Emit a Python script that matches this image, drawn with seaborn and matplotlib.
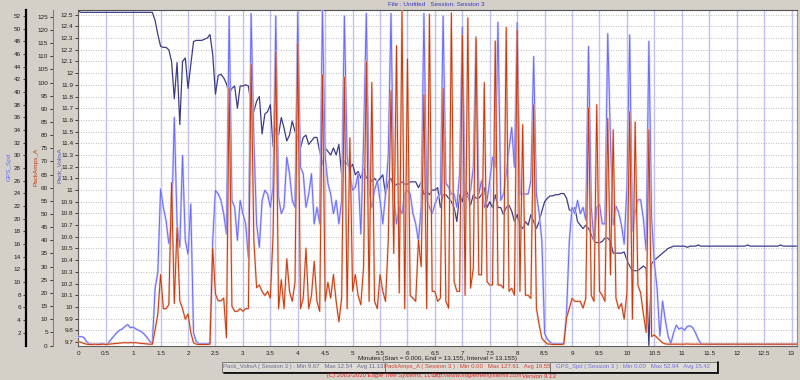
import numpy as np
import pandas as pd
import seaborn as sns
import matplotlib.pyplot as plt
from matplotlib.patches import Rectangle

# Eagle Tree logger, session 3 - one sample every 0.05 minutes
pack_volts = [
    12.53, 12.52, 12.52, 12.52, 12.52, 12.52, 12.52, 12.52, 12.52, 12.52,  # 0.0
    12.52, 12.52, 12.52, 12.52, 12.52, 12.52, 12.52, 12.52, 12.52, 12.52,
    12.52, 12.52, 12.52, 12.52, 12.52, 12.52, 12.52, 12.52, 12.45, 12.33,  # 1.0
    12.23, 12.22, 12.22, 12.20, 12.10, 11.78, 12.09, 11.56, 12.10, 12.13,
    11.87, 12.07, 12.27, 12.28, 12.28, 12.28, 12.29, 12.30, 12.33, 12.16,  # 2.0
    11.82, 11.98, 11.99, 11.96, 11.91, 11.82, 11.87, 11.89, 11.70, 11.89,
    11.89, 11.90, 11.89, 11.73, 11.67, 11.76, 11.80, 11.48, 11.65, 11.67,  # 3.0
    11.73, 11.37, 11.53, 11.47, 11.62, 11.53, 11.42, 11.47, 11.59, 11.50,
    11.45, 11.36, 11.45, 11.47, 11.39, 11.42, 11.45, 11.45, 11.33, 11.22,  # 4.0
    11.36, 11.33, 11.30, 11.36, 11.30, 11.39, 11.13, 11.25, 11.22, 11.19,
    11.22, 11.13, 11.16, 11.10, 11.19, 11.10, 11.13, 11.07, 11.10, 11.07,  # 5.0
    11.10, 11.13, 10.96, 11.07, 11.10, 11.02, 11.05, 11.05, 11.07, 11.05,
    11.05, 11.07, 11.07, 11.07, 11.02, 11.07, 10.96, 10.99, 10.96, 11.00,  # 6.0
    11.00, 11.02, 10.85, 10.96, 10.96, 10.93, 10.90, 10.85, 10.73, 10.96,
    10.90, 11.02, 10.96, 10.87, 10.96, 10.93, 10.93, 10.96, 11.02, 10.85,  # 7.0
    10.90, 10.85, 10.96, 10.85, 10.85, 10.79, 10.85, 10.87, 10.82, 10.73,
    10.79, 10.70, 10.67, 10.73, 10.70, 10.79, 10.73, 10.67, 10.73, 10.82,  # 8.0
    10.90, 10.93, 10.95, 10.95, 10.96, 10.96, 10.97, 10.97, 10.93, 10.83,
    10.82, 10.85, 10.73, 10.70, 10.67, 10.70, 10.67, 10.62, 10.56, 10.55,  # 9.0
    10.55, 10.56, 10.59, 10.59, 10.56, 10.46, 10.46, 10.46, 10.46, 10.47,
    10.40, 10.35, 10.31, 10.31, 10.31, 10.33, 10.35, 10.33, 9.67, 10.37,  # 10.0
    10.40, 10.42, 10.44, 10.46, 10.48, 10.50, 10.51, 10.52, 10.52, 10.52,
    10.52, 10.52, 10.51, 10.52, 10.52, 10.52, 10.53, 10.52, 10.52, 10.52,  # 11.0
    10.52, 10.52, 10.52, 10.52, 10.52, 10.52, 10.52, 10.52, 10.52, 10.52,
    10.52, 10.52, 10.52, 10.52, 10.53, 10.52, 10.52, 10.52, 10.52, 10.52,  # 12.0
    10.52, 10.52, 10.52, 10.52, 10.52, 10.52, 10.53, 10.52, 10.52, 10.52,
    10.52, 10.52, 10.52, 10.52,                                            # 13.0
]

pack_amps = [
    1.5, 1.2, 0.8, 0.5, 0.4, 0.4, 0.5, 0.4, 0.4, 0.5,
    0.4, 0.5, 0.6, 0.7, 0.8, 0.9, 1.0, 1.1, 1.0, 1.1,
    1.0, 1.1, 0.9, 0.8, 0.7, 0.6, 0.5, 0.5, 6.0, 12.0,
    27.0, 14.0, 14.0, 15.5, 62.0, 16.0, 45.0, 17.0, 14.0, 10.0,
    12.0, 5.0, 1.0, 0.5, 0.4, 0.4, 0.4, 0.4, 0.5, 37.0,
    19.6, 17.0, 17.0, 18.0, 3.0, 98.0, 15.0, 13.0, 13.0, 14.0,
    13.0, 14.0, 14.0, 107.0, 40.0, 22.0, 23.0, 20.6, 19.0, 20.6,
    18.0, 42.0, 112.0, 14.0, 25.0, 14.0, 33.0, 20.6, 16.8, 24.0,
    115.0, 14.0, 18.0, 37.0, 14.0, 19.0, 32.0, 16.8, 13.0, 103.0,
    16.8, 24.0, 18.0, 27.0, 16.8, 9.0, 18.0, 102.0, 14.0, 79.0,
    20.6, 27.0, 19.0, 15.5, 30.0, 108.0, 16.8, 100.0, 16.8, 14.0,
    27.0, 20.6, 16.8, 40.0, 97.0, 35.0, 114.0, 20.0, 127.6, 14.0,
    109.0, 19.0, 18.0, 16.8, 40.0, 30.0, 95.4, 14.0, 126.0, 20.6,
    20.6, 16.8, 18.0, 97.9, 16.8, 14.2, 126.5, 24.3, 20.6, 20.6,
    118.0, 19.1, 124.6, 21.8, 29.4, 117.0, 26.9, 26.9, 100.0, 24.3,
    23.0, 23.0, 115.8, 23.0, 23.0, 21.8, 121.0, 20.6, 21.8, 19.1,
    120.0, 20.6, 84.0, 19.1, 19.1, 17.9, 91.6, 14.2, 7.9, 2.7,
    1.5, 0.6, 0.5, 0.4, 0.4, 0.4, 0.4, 0.5, 10.5, 14.2,
    17.9, 16.8, 16.8, 16.8, 14.2, 17.9, 90.4, 19.1, 16.8, 91.6,
    20.6, 19.1, 16.8, 86.4, 26.9, 82.0, 18.0, 14.0, 16.0, 10.0,
    20.0, 89.0, 10.0, 85.0, 23.0, 20.0, 12.0, 5.0, 82.0, 3.4,
    4.0, 3.0, 2.0, 1.0, 0.6, 0.5, 0.5, 0.5, 0.5, 0.5,
    0.5, 0.5, 0.6, 0.5, 0.5, 0.5, 0.5, 0.5, 0.5, 0.5,
    0.5, 0.5, 0.5, 0.5, 0.5, 0.5, 0.5, 0.5, 0.5, 0.5,
    0.5, 0.5, 0.5, 0.5, 0.5, 0.5, 0.5, 0.5, 0.5, 0.5,
    0.5, 0.5, 0.5, 0.5, 0.5, 0.5, 0.5, 0.5, 0.5, 0.5,
    0.5, 0.5, 0.5, 0.5,
]

gps_speed = [
    1.4, 1.4, 1.3, 0.6, 0.3, 0.2, 0.2, 0.2, 0.3, 0.3,
    0.2, 0.4, 1.0, 1.5, 2.0, 2.4, 2.6, 3.0, 3.3, 2.8,
    2.9, 2.6, 2.4, 2.2, 1.8, 1.3, 0.7, 0.3, 9.0, 11.6,
    24.7, 21.8, 19.7, 16.1, 19.0, 36.0, 19.2, 15.5, 30.0, 16.6,
    14.4, 22.3, 2.0, 0.6, 0.3, 0.3, 0.3, 0.3, 0.4, 16.6,
    24.5, 23.9, 22.9, 20.8, 17.6, 52.0, 22.9, 21.8, 16.6, 22.9,
    20.8, 19.2, 13.9, 52.4, 32.4, 19.2, 15.5, 22.9, 24.5, 23.9,
    21.8, 25.0, 52.0, 23.4, 20.8, 21.8, 29.7, 27.1, 22.9, 21.8,
    52.6, 28.1, 27.1, 21.8, 23.9, 27.1, 19.2, 21.8, 19.2, 52.9,
    29.7, 25.6, 23.9, 20.8, 22.9, 19.2, 22.9, 52.0, 29.7, 27.1,
    24.5, 25.0, 27.1, 17.6, 32.4, 52.4, 24.5, 21.8, 24.5, 26.0,
    22.9, 19.2, 23.9, 30.0, 52.4, 23.9, 19.2, 21.8, 20.8, 23.9,
    24.5, 23.9, 20.8, 19.2, 16.5, 21.8, 52.4, 22.9, 21.8, 20.8,
    22.3, 23.4, 23.9, 52.0, 25.6, 25.0, 23.9, 23.9, 21.8, 27.1,
    50.3, 23.9, 23.4, 24.5, 28.1, 48.7, 23.9, 26.0, 21.8, 22.9,
    26.0, 29.7, 28.1, 51.0, 22.9, 23.9, 27.1, 31.0, 34.4, 28.1,
    51.0, 23.9, 23.9, 23.9, 23.9, 26.0, 45.6, 23.9, 20.8, 16.5,
    1.9, 1.0, 0.5, 0.3, 0.3, 0.3, 0.3, 0.4, 5.3, 16.5,
    21.8, 20.8, 22.9, 20.8, 21.8, 19.8, 47.2, 21.8, 16.5, 21.8,
    22.3, 19.2, 19.2, 49.2, 32.4, 19.0, 22.0, 21.0, 19.0, 16.0,
    25.0, 49.0, 18.0, 21.0, 23.0, 23.0, 20.0, 15.0, 48.0, 20.0,
    13.0, 9.0, 1.5, 7.0, 4.0, 1.5, 0.3, 2.0, 3.2, 2.6,
    2.8, 2.4, 3.0, 3.1, 2.8, 2.0, 1.0, 0.3, 0.2, 0.2,
    0.2, 0.2, 0.2, 0.2, 0.2, 0.2, 0.2, 0.2, 0.2, 0.2,
    0.2, 0.2, 0.2, 0.2, 0.2, 0.2, 0.2, 0.2, 0.2, 0.2,
    0.2, 0.2, 0.2, 0.2, 0.2, 0.2, 0.2, 0.2, 0.2, 0.2,
    0.2, 0.2, 0.2, 0.2,
]

sample_step = 0.05
minutes = np.arange(len(pack_volts)) * sample_step

log = pd.DataFrame({
    "Minutes": minutes,
    "Pack_VoltsA": pack_volts,
    "PackAmps_A": pack_amps,
    "GPS_Spd": gps_speed,
})

legend_lines = [
    ("Pack_VoltsA ( Session 3 ) : Min 9.67   Max 12.54   Avg 11.13", "#6a6a90"),
    ("PackAmps_A ( Session 3 ) : Min 0.00   Max 127.61   Avg 19.55", "#cc4030"),
    ("GPS_Spd ( Session 3 ) : Min 0.00   Max 52.94   Avg 15.42", "#7070e0"),
]

VOLT_C = "#3c3c88"
AMP_C = "#c8380a"
GPS_C = "#6a6aff"
TXT = 4.6
SMALL = 4.3

sns.set_style("white")
plt.rcParams["font.family"] = ["Liberation Sans Narrow", "Liberation Sans", "DejaVu Sans"]

W, H = 800, 380
fig = plt.figure(figsize=(8, 3.8), dpi=100, facecolor="#d4d0c8")
left, right, top, bottom = 78.3, 797, 10, 345.5
ax = fig.add_axes([left / W, 1 - bottom / H, (right - left) / W, (bottom - top) / H])
ax.set_facecolor("white")

ax_gps = ax.twinx()
ax_amps = ax.twinx()

# lines (pale underlay gives the washed look of the logger plot)
sns.lineplot(data=log, x="Minutes", y="GPS_Spd", ax=ax_gps, color="#cfcff6", lw=1.6, estimator=None)
sns.lineplot(data=log, x="Minutes", y="GPS_Spd", ax=ax_gps, color=GPS_C, lw=0.7, estimator=None)
sns.lineplot(data=log, x="Minutes", y="PackAmps_A", ax=ax_amps, color="#eebcaa", lw=1.6, estimator=None, alpha=0.7)
sns.lineplot(data=log, x="Minutes", y="PackAmps_A", ax=ax_amps, color=AMP_C, lw=0.7, estimator=None)
sns.lineplot(data=log, x="Minutes", y="Pack_VoltsA", ax=ax, color=VOLT_C, lw=0.9, estimator=None)

ax.set_xlim(0, 13.1)
ax.set_ylim(9.67, 12.54)
ax_amps.set_ylim(0, 127.61)
ax_gps.set_ylim(0, 52.94)

# x axis
xt = np.arange(0, 13.01, 0.5)
ax.set_xticks(xt)
ax.set_xticklabels([f"{v:g}" for v in xt])
ax.tick_params(axis="x", labelsize=TXT, length=2, width=0.6, pad=2, colors="#202020")
ax.set_xlabel("")

# voltage axis at the plot edge
vt = np.round(np.arange(9.7, 12.51, 0.1), 1)
ax.set_yticks(vt)
ax.set_yticklabels([f"{v:g}" for v in vt])
ax.tick_params(axis="y", labelsize=TXT, length=2.5, width=0.6, pad=1.2, colors="#202020")
ax.set_ylabel("")
ax.grid(axis="x", color="#c0c0f2", lw=1.0, ls="-")
ax.grid(axis="y", color="#a8a8a8", lw=0.6, ls=(0, (1, 2)))
ax.set_axisbelow(True)
for side in ["left", "bottom"]:
    ax.spines[side].set_color("#606060")
    ax.spines[side].set_linewidth(0.8)
ax.spines["top"].set_color("#505050")
ax.spines["right"].set_color("#909090")

# amps axis, moved left
ax_amps.yaxis.tick_left()
ax_amps.spines["left"].set_visible(True)
ax_amps.spines["left"].set_position(("axes", (53 - left) / (right - left)))
ax_amps.spines["left"].set_color("#808080")
ax_amps.spines["left"].set_linewidth(0.8)
for side in ["right", "top", "bottom"]:
    ax_amps.spines[side].set_visible(False)
ax_amps.set_yticks(np.arange(0, 126, 5))
ax_amps.tick_params(axis="y", labelsize=TXT, length=2.5, width=0.6, pad=1.2, colors="#202020")
ax_amps.set_ylabel("")

# gps axis, further left
ax_gps.yaxis.tick_left()
ax_gps.spines["left"].set_visible(True)
ax_gps.spines["left"].set_position(("axes", (26 - left) / (right - left)))
ax_gps.spines["left"].set_color("black")
ax_gps.spines["left"].set_linewidth(1.6)
for side in ["right", "top", "bottom"]:
    ax_gps.spines[side].set_visible(False)
ax_gps.set_yticks(np.arange(2, 53, 2))
ax_gps.tick_params(axis="y", labelsize=TXT, length=2.5, width=0.6, pad=1.2, colors="#202020")
ax_gps.set_ylabel("")


def fx(x):
    return x / W


def fy(y):
    return 1 - y / H


# rotated axis titles
fig.text(fx(9), fy(167), "GPS_Spd", rotation=90, color=GPS_C, fontsize=TXT, ha="center", va="center")
fig.text(fx(36), fy(167), "PackAmps_A", rotation=90, color=AMP_C, fontsize=TXT, ha="center", va="center")
fig.text(fx(59), fy(165), "Pack_VoltsA", rotation=90, color="#5a5aa8", fontsize=TXT, ha="center", va="center")

fig.text(fx(436), fy(5), "File : Untitled   Session: Session 3", color="#3838c0", fontsize=TXT,
         ha="center", va="center")
fig.text(fx(437), fy(358.5), "Minutes (Start = 0.000, End = 13.155, Interval = 13.155)",
         color="#202020", fontsize=TXT, ha="center", va="center")

# legend boxes
box_edges = [222, 385, 550, 717]
for i, (txt, col) in enumerate(legend_lines):
    x0, x1 = box_edges[i], box_edges[i + 1]
    fig.patches.append(Rectangle((fx(x0), fy(372)), (x1 - x0) / W, 10.5 / H, transform=fig.transFigure,
                                 facecolor="#dedbd4", edgecolor="#7a7a7a", lw=0.7))
    fig.text(fx((x0 + x1) / 2), fy(366.5), txt, color=col, fontsize=SMALL, ha="center", va="center")
fig.lines.append(plt.Line2D([fx(224), fx(718)], [fy(373), fy(373)], transform=fig.transFigure,
                            color="black", lw=1.2))
fig.lines.append(plt.Line2D([fx(718), fx(718)], [fy(362), fy(373)], transform=fig.transFigure,
                            color="black", lw=1.2))

footer_kw = dict(color="#e02828", fontsize=SMALL, ha="left", va="center", style="italic")
fig.text(fx(327), fy(376), "(C) 2003-2010 Eagle Tree Systems, LLC", **footer_kw)
fig.text(fx(433), fy(376), "http://www.eagletreesystems.com", **footer_kw)
fig.text(fx(522), fy(376), "Version 9.13", **footer_kw)

fig.savefig("out.png", dpi=100, facecolor=fig.get_facecolor())
